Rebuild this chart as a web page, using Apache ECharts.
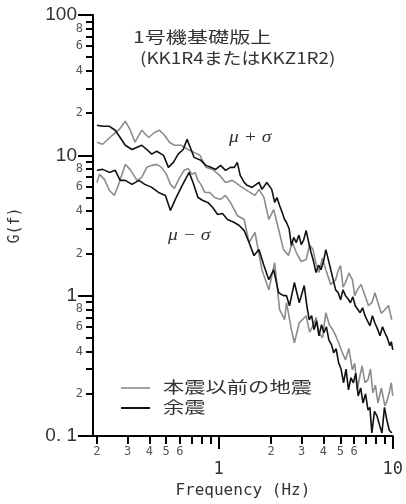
<!DOCTYPE html>
<html>
<head>
<meta charset="utf-8">
<script src="https://cdn.jsdelivr.net/npm/echarts@6/dist/echarts.min.js"></script>
<style>
html, body { margin: 0; padding: 0; background: #fff; }
#chart { width: 406px; height: 504px; }
</style>
</head>
<body>
<div id="chart"></div>
<script>
// 余震 (black) mu+sigma / mu-sigma
var freqAftUp = [0.2,0.216,0.236,0.255,0.272,0.291,0.318,0.362,0.387,0.413,0.441,0.483,0.515,0.55,0.586,0.626,0.659,0.695,0.723,0.791,0.845,0.901,0.962,1.026,1.096,1.169,1.231,1.28,1.331,1.402,1.458,1.556,1.705,1.774,1.892,2.018,2.099,2.16,2.24,2.32,2.393,2.454,2.54,2.618,2.70,2.793,2.89,2.983,3.08,3.183,3.29,3.397,3.51,3.624,3.75,3.868,4.00,4.128,4.27,4.406,4.55,4.699,4.86,5.015,5.18,5.353,5.53,5.713,5.90,6.092,6.29,6.496,6.71,6.927,7.16,7.393,7.64,7.883,8.17,8.45,8.73,9.01,9.31,9.62,9.81,10];
var gAftUp = [16.4,16.1,16.1,15.1,13.4,11.8,11.0,11.8,11.0,10.2,10.7,10.0,8.21,8.91,10.2,11.0,13.0,11.0,9.67,9.21,8.48,8.21,7.94,8.48,7.82,8.21,8.21,8.91,7.20,6.41,6.11,5.91,6.41,5.72,6.41,5.72,4.62,5.0,4.39,3.9,3.49,3.32,3.0,2.28,2.6,2.39,2.7,2.31,2.5,2.91,2.4,2.03,1.75,1.46,1.65,1.53,1.75,2.13,1.8,1.53,1.3,1.10,1.05,0.936,1.1,1.0,0.95,0.891,0.98,0.848,0.80,0.756,0.82,0.720,0.66,0.611,0.72,0.641,0.58,0.518,0.60,0.544,0.50,0.439,0.47,0.411];

var freqAftLo = [0.2,0.216,0.236,0.255,0.272,0.291,0.318,0.349,0.377,0.413,0.452,0.495,0.529,0.564,0.61,0.677,0.713,0.761,0.812,0.867,0.925,0.987,1.053,1.124,1.231,1.314,1.402,1.496,1.597,1.705,1.82,1.942,2.071,2.211,2.36,2.454,2.553,2.723,2.905,3.102,3.21,3.311,3.42,3.532,3.65,3.77,3.90,4.023,4.16,4.294,4.44,4.58,4.73,4.888,5.05,5.217,5.39,5.568,5.75,5.937,6.13,6.331,6.54,6.751,6.98,7.205,7.39,7.585,7.85,8.118,8.39,8.67,8.96,9.25,9.55,9.87];
var gAftLo = [7.82,7.94,7.56,7.82,6.63,6.63,6.21,6.63,6.21,5.91,5.44,5.18,4.05,4.85,5.91,7.56,6.41,5.01,4.77,4.62,4.25,3.79,3.85,3.49,3.32,3.16,2.91,2.39,1.93,2.13,1.64,1.30,1.53,1.05,1.0,1.0,0.848,1.24,0.891,1.18,0.85,0.674,0.72,0.572,0.66,0.518,0.62,0.544,0.60,0.485,0.45,0.392,0.42,0.332,0.30,0.239,0.30,0.213,0.26,0.239,0.28,0.193,0.22,0.172,0.20,0.153,0.16,0.105,0.15,0.139,0.12,0.105,0.16,0.130,0.11,0.105];

// 本震以前の地震 (gray) mu+sigma / mu-sigma
var freqPreUp = [0.2,0.216,0.245,0.269,0.291,0.31,0.331,0.362,0.397,0.43,0.458,0.489,0.522,0.557,0.61,0.668,0.723,0.781,0.845,0.925,1.013,1.096,1.2,1.314,1.421,1.516,1.618,1.705,1.82,1.942,2.071,2.211,2.36,2.518,2.65,2.793,2.98,3.183,3.33,3.486,3.62,3.77,3.94,4.128,4.40,4.699,4.85,5.015,5.18,5.353,5.60,5.862,6.05,6.25,6.58,6.927,7.25,7.585,7.90,8.22,8.60,9.01,9.45,9.87];
var gPreUp = [12.4,12.0,13.9,15.3,17.5,15.3,12.4,15.1,13.4,14.6,15.1,13.9,12.4,11.8,11.8,11.0,10.5,10.0,8.21,7.94,7.20,6.41,6.63,6.11,5.72,5.44,5.18,5.72,5.01,3.49,4.11,2.96,2.13,1.93,2.4,2.03,1.75,1.81,2.3,2.13,1.7,1.46,1.85,1.53,1.2,1.30,1.5,1.64,1.15,1.24,1.45,1.30,1.0,1.10,1.2,1.0,0.85,0.891,1.05,0.891,0.75,0.794,0.85,0.674];

var freqPreLo = [0.2,0.207,0.221,0.236,0.252,0.269,0.291,0.31,0.34,0.362,0.387,0.413,0.441,0.47,0.502,0.529,0.557,0.594,0.634,0.668,0.704,0.732,0.761,0.791,0.834,0.889,0.949,1.026,1.096,1.169,1.28,1.402,1.496,1.618,1.774,1.942,2.099,2.24,2.393,2.454,2.618,2.723,2.905,3.183,3.33,3.486,3.63,3.77,3.95,4.128,4.32,4.521,4.70,4.888,5.10,5.353,5.60,5.862,6.05,6.25,6.45,6.665,6.93,7.205,7.45,7.683,7.95,8.22,8.60,9.01,9.30,9.62,9.80,10];
var gPreLo = [6.41,7.32,6.74,5.62,5.18,6.41,8.62,7.94,6.63,6.96,8.21,8.48,8.62,8.21,7.32,6.21,5.81,6.85,7.82,8.07,7.32,7.56,6.63,6.21,5.44,5.44,5.01,4.85,5.18,4.62,3.73,3.49,2.39,2.82,1.53,1.10,1.72,0.794,0.674,0.891,0.572,0.462,0.641,0.720,0.55,0.611,0.70,0.544,0.50,0.756,0.62,0.572,0.52,0.462,0.40,0.349,0.42,0.296,0.33,0.213,0.26,0.316,0.24,0.251,0.30,0.203,0.23,0.172,0.22,0.164,0.18,0.213,0.24,0.193];

// ticks and labels
var xMajorTicks = [1, 10];
var xMinorTicks = [0.2,0.3,0.4,0.5,0.6,0.7,0.8,0.9,2,3,4,5,6,7,8,9];
var xMinorLabels = [0.2,0.3,0.4,0.5,0.6,2,3,4,5,6];
var yMajorTicks = [0.1, 1, 10, 100];
var yMinorTicks = [0.2,0.3,0.4,0.5,0.6,0.7,0.8,0.9,2,3,4,5,6,7,8,9,20,30,40,50,60,70,80,90];
var yMinorLabels = [0.2,0.4,0.6,0.8,2,4,6,8,20,40,60,80];

var nameAft = '余震';
var namePre = '本震以前の地震';

var mono = 'DejaVu Sans Mono';

function pairs(fs, gs) {
	var out = [];
	for (var i = 0; i < fs.length; i++) {
		out.push([fs[i], gs[i]]);
	}
	return out;
}

function leadDigit(v) {
	var p = Math.pow(10, Math.floor(Math.log10(v) + 1e-9));
	return String(Math.round(v / p));
}

function lineSeries(name, fs, gs, color, width) {
	return {
		type: 'line',
		name: name,
		data: pairs(fs, gs),
		xAxisIndex: 0,
		yAxisIndex: 0,
		symbol: 'none',
		showSymbol: false,
		lineStyle: { color: color, width: width },
		itemStyle: { color: color },
		animation: false
	};
}

let mychart = echarts.init(document.getElementById('chart'));

let option = {
	backgroundColor: '#fff',
	grid: { left: 93, right: 8, top: 15, bottom: 68 },
	xAxis: [{
		type: 'log', logBase: 10, min: 0.19, max: 10,
		position: 'bottom',
		name: 'Frequency (Hz)', nameLocation: 'middle', nameGap: 47,
		nameTextStyle: { fontFamily: mono, fontSize: 16, color: '#333' },
		axisLine: { show: true, lineStyle: { color: '#000', width: 2 } },
		axisTick: { show: true, customValues: xMajorTicks, length: 13, lineStyle: { color: '#000', width: 2 } },
		axisLabel: { customValues: xMajorTicks, margin: 25, fontFamily: mono, fontSize: 17, color: '#333',
			formatter: function (v) { return String(Math.round(v)); } },
		splitLine: { show: false }
	}, {
		type: 'log', logBase: 10, min: 0.19, max: 10,
		position: 'bottom',
		axisLine: { show: false },
		axisTick: { show: true, customValues: xMinorTicks, length: 8, lineStyle: { color: '#000', width: 2 } },
		axisLabel: { customValues: xMinorLabels, margin: 10, fontFamily: mono, fontSize: 12, color: '#555',
			formatter: leadDigit },
		splitLine: { show: false }
	}],
	yAxis: [{
		type: 'log', logBase: 10, min: 0.1, max: 100,
		position: 'left',
		name: 'G(f)', nameLocation: 'middle', nameGap: 70,
		nameTextStyle: { fontFamily: mono, fontSize: 15, color: '#333' },
		axisLine: { show: true, lineStyle: { color: '#000', width: 2 } },
		axisTick: { show: true, customValues: yMajorTicks, length: 15, lineStyle: { color: '#000', width: 2 } },
		axisLabel: { customValues: yMajorTicks, margin: 16, fontFamily: 'Liberation Sans', fontSize: 19, color: '#333',
			formatter: function (v) { return v < 1 ? '0. 1' : String(Math.round(v)); } },
		splitLine: { show: false }
	}, {
		type: 'log', logBase: 10, min: 0.1, max: 100,
		position: 'left',
		axisLine: { show: false },
		axisTick: { show: true, customValues: yMinorTicks, length: 7, lineStyle: { color: '#000', width: 2 } },
		axisLabel: { customValues: yMinorLabels, margin: 10, fontFamily: mono, fontSize: 12, color: '#555',
			formatter: leadDigit },
		splitLine: { show: false }
	}],
	graphic: [
		{ type: 'text', x: 133, y: 29, scaleX: 1.32, style: { text: '1号機基礎版上', font: '16px "Noto Sans CJK JP"', fill: '#333' } },
		{ type: 'text', x: 140, y: 50, scaleX: 1.18, style: { text: '(KK1R4またはKKZ1R2)', font: '16px "Noto Sans CJK JP"', fill: '#333' } },
		{ type: 'text', x: 229, y: 129, scaleX: 1.15, style: { text: 'μ + σ', font: 'italic 17px "Liberation Serif"', fill: '#333' } },
		{ type: 'text', x: 168, y: 227, scaleX: 1.15, style: { text: 'μ − σ', font: 'italic 17px "Liberation Serif"', fill: '#333' } },
		{ type: 'line', shape: { x1: 121, y1: 388, x2: 150, y2: 388 }, style: { stroke: '#8c8c8c', lineWidth: 1.6 } },
		{ type: 'line', shape: { x1: 121, y1: 408, x2: 150, y2: 408 }, style: { stroke: '#111', lineWidth: 2 } },
		{ type: 'text', x: 163, y: 379, scaleX: 1.33, style: { text: namePre, font: '16px "Noto Sans CJK JP"', fill: '#333' } },
		{ type: 'text', x: 163, y: 399, scaleX: 1.33, style: { text: nameAft, font: '16px "Noto Sans CJK JP"', fill: '#333' } }
	],
	series: [
		lineSeries(namePre, freqPreUp, gPreUp, '#8c8c8c', 1.6),
		lineSeries(namePre, freqPreLo, gPreLo, '#8c8c8c', 1.6),
		lineSeries(nameAft, freqAftUp, gAftUp, '#111', 1.6),
		lineSeries(nameAft, freqAftLo, gAftLo, '#111', 1.6)
	]
};

mychart.setOption(option);
</script>
</body>
</html>
